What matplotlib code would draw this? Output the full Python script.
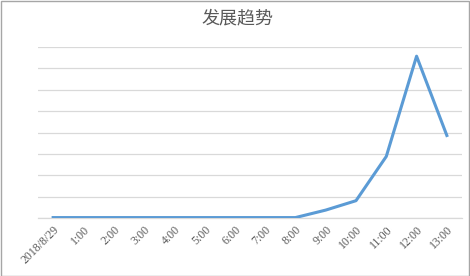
import matplotlib
matplotlib.use("Agg")
import matplotlib.pyplot as plt
from matplotlib.patches import Rectangle

categories = ["2018/8/29", "1:00", "2:00", "3:00", "4:00", "5:00", "6:00",
              "7:00", "8:00", "9:00", "10:00", "11:00", "12:00", "13:00"]
values = [2, 2, 2, 2, 2, 2, 2, 2, 2, 37, 81, 288, 757, 386]
title = "发展趋势"

plt.rcParams['font.family'] = ['Noto Sans CJK SC', 'DejaVu Sans']

fig = plt.figure(figsize=(4.7, 2.76), dpi=100)
ax = fig.add_axes([38/470, 1-218/276, (462-38)/470, (218-47)/276])

x = list(range(len(categories)))
ax.plot(x, values, color="#5B9BD5", linewidth=2.2, solid_joinstyle="round", zorder=3)

ax.set_xlim(-0.5, len(categories) - 0.5)
ax.set_ylim(0, 800)
ax.set_yticks(range(0, 801, 100))
ax.yaxis.grid(True, color="#D9D9D9", linewidth=0.9)
ax.set_axisbelow(True)
ax.tick_params(axis="y", left=False, labelleft=False)
ax.tick_params(axis="x", length=0, pad=4)
ax.set_xticks(x)
ax.set_xticklabels(categories, rotation=45, ha="right", rotation_mode="anchor",
                   color="#595959", fontsize=8.5, family=["Liberation Serif", "DejaVu Serif"])
for s in ["top", "right", "left"]:
    ax.spines[s].set_visible(False)
ax.spines["bottom"].set_color("#D9D9D9")
ax.spines["bottom"].set_linewidth(0.9)

fig.text(237/470, 1-18/276, title, ha="center", va="center", fontsize=13, color="#595959")

fig.patches.append(Rectangle((0.5/470, 0.5/276), 1-1.5/470, 1-1.5/276, transform=fig.transFigure,
                             fill=False, edgecolor="#A6A6A6", linewidth=1.0))

fig.savefig("out.png", dpi=100)
